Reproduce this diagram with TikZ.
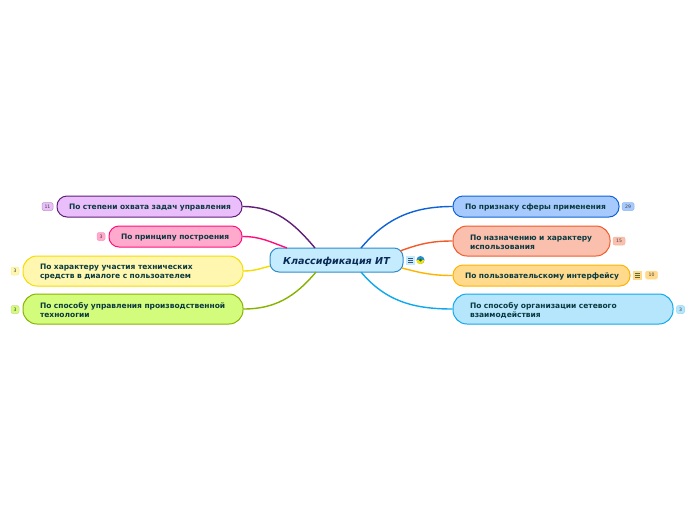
\documentclass[tikz,border=0pt]{standalone}
\usepackage{fontspec}
\setmainfont{DejaVu Sans}
\definecolor{aFill}{HTML}{E9BEFB}\definecolor{aLine}{HTML}{5F1E78}
\definecolor{bFill}{HTML}{FFAACC}\definecolor{bLine}{HTML}{FF0F7B}
\definecolor{cFill}{HTML}{FFF7B0}\definecolor{cLine}{HTML}{F5DC00}
\definecolor{dFill}{HTML}{D4FC7C}\definecolor{dLine}{HTML}{86B300}
\definecolor{eFill}{HTML}{A6CAFD}\definecolor{eLine}{HTML}{0F62D6}
\definecolor{fFill}{HTML}{FBBFAD}\definecolor{fLine}{HTML}{F15A29}
\definecolor{gFill}{HTML}{FFD98C}\definecolor{gLine}{HTML}{FFB300}
\definecolor{hFill}{HTML}{B5E6FC}\definecolor{hLine}{HTML}{0FA8EC}
\definecolor{rootFill}{HTML}{C5EBFF}\definecolor{rootLine}{HTML}{2E8CCB}
\definecolor{topicText}{HTML}{0A3A40}\definecolor{rootText}{HTML}{0B2A55}
\begin{document}
\begin{tikzpicture}
[x=1pt,y=-1pt,
  rootDecorate/.style={shape=rectangle,rounded corners=9pt,draw=rootLine,fill=rootFill,line width=1pt,
    minimum width=133pt,minimum height=24pt,text height=8pt,text depth=0pt,text=rootText,
    font=\fontsize{9.6}{11}\selectfont\bfseries\itshape},
  topicDecorate/.style={shape=rectangle,line width=1pt,text=topicText,align=left,inner ysep=0pt,
    font=\fontsize{7.5}{9}\selectfont\bfseries},
  badgeDecorate/.style={shape=rectangle,rounded corners=2pt,inner sep=0pt,line width=.5pt,
    minimum height=8pt,text=black!75,font=\fontsize{4.6}{5}\selectfont},
  iconDecorate/.style={shape=rectangle,inner sep=0pt,minimum width=9pt,minimum height=9pt},
  lineDecorate/.style={-,line width=1.4pt}]
\useasboundingbox (0,0) rectangle (696,520);
%% nodes or vertices
\node (root) at (336.5,260) [rootDecorate] {Классификация ИТ};
\foreach \nodename/\x/\y/\w/\h/\tw/\r/\txt in {
  a/149.5/206.5/185/21/161/10/{\mbox{По степени охвата задач управления}},
  b/175.5/236.5/133/21/109/10/{\mbox{По принципу построения}},
  c/133/271/220/30/186/14/{По характеру участия технических\\средств в диалоге с пользоателем},
  d/133/309/220/30/186/14/{По способу управления производственной\\технологии},
  e/536/206.5/166/21/142/10/{\mbox{По признаку сферы применения}},
  f/531.5/241/157/30/123/14/{По назначению и характеру\\использования},
  g/541.5/275.5/177/21/153/10/{\mbox{По пользовательскому интерфейсу}},
  h/563/309/220/30/186/14/{По способу организации сетевого\\взаимодействия}} {
  \node (\nodename) at (\x,\y) [topicDecorate,draw=\nodename Line,fill=\nodename Fill,rounded corners=\r pt,
    minimum width=\w pt,minimum height=\h pt,text width=\tw pt] {\txt\vspace*{-3pt}};
}
%% counters beside the topics
\foreach \nodename/\x/\y/\w/\cnt in {
  a/47.5/206.5/11/11, b/101/236.5/8/3, c/15/271/8/3, d/15/309.5/8/3,
  e/628/206.5/12/29, f/619/241/12/15, g/651.5/275/12/10, h/680.5/309.5/8/3} {
  \node (\nodename Badge) at (\x,\y) [badgeDecorate,minimum width=\w pt,
    draw=\nodename Line!45,fill=\nodename Fill] {\cnt};
}
%% icons
\node (rootNote) at (410.5,260) [iconDecorate,fill=rootFill] {};
\node (gNote) at (637.5,275) [iconDecorate,fill=gFill] {};
\foreach \iconname/\icolor in {rootNote/rootText!80,gNote/dLine!40!black!80} {
  \foreach \dy in {-2,0,2} {
    \draw[line width=.7pt,\icolor] ([xshift=-2.5pt,yshift=\dy pt]\iconname.center) -- ([xshift=2.5pt,yshift=\dy pt]\iconname.center);
  }
}
\node (rootGlobe) at (420.5,260) [shape=circle,inner sep=0pt,minimum size=8pt,fill=rootLine] {};
\fill[yellow!80!orange] (rootGlobe.west) arc (180:360:4pt) -- cycle;
\fill[green!50!black] (rootGlobe.center) circle (1.5pt);
%% edges or lines
\coordinate (rootA) at (315,248);
\coordinate (rootB) at (287,248);
\coordinate (rootC) at (270,266);
\coordinate (rootD) at (316,272);
\coordinate (rootE) at (361,248);
\coordinate (rootF) at (400,251);
\coordinate (rootG) at (402,268);
\coordinate (rootH) at (361,272);
\foreach \startnode/\endnode/\side/\aout/\ain in {
  a/rootA/east/0/130, b/rootB/east/0/160, c/rootC/east/0/195, d/rootD/east/0/230,
  e/rootE/west/180/50, f/rootF/west/180/20, g/rootG/west/180/-15, h/rootH/west/180/-50} {
  \path (\startnode.\side) edge[lineDecorate,draw=\startnode Line,out=\aout,in=\ain] (\endnode);
}
\end{tikzpicture}
\end{document}
